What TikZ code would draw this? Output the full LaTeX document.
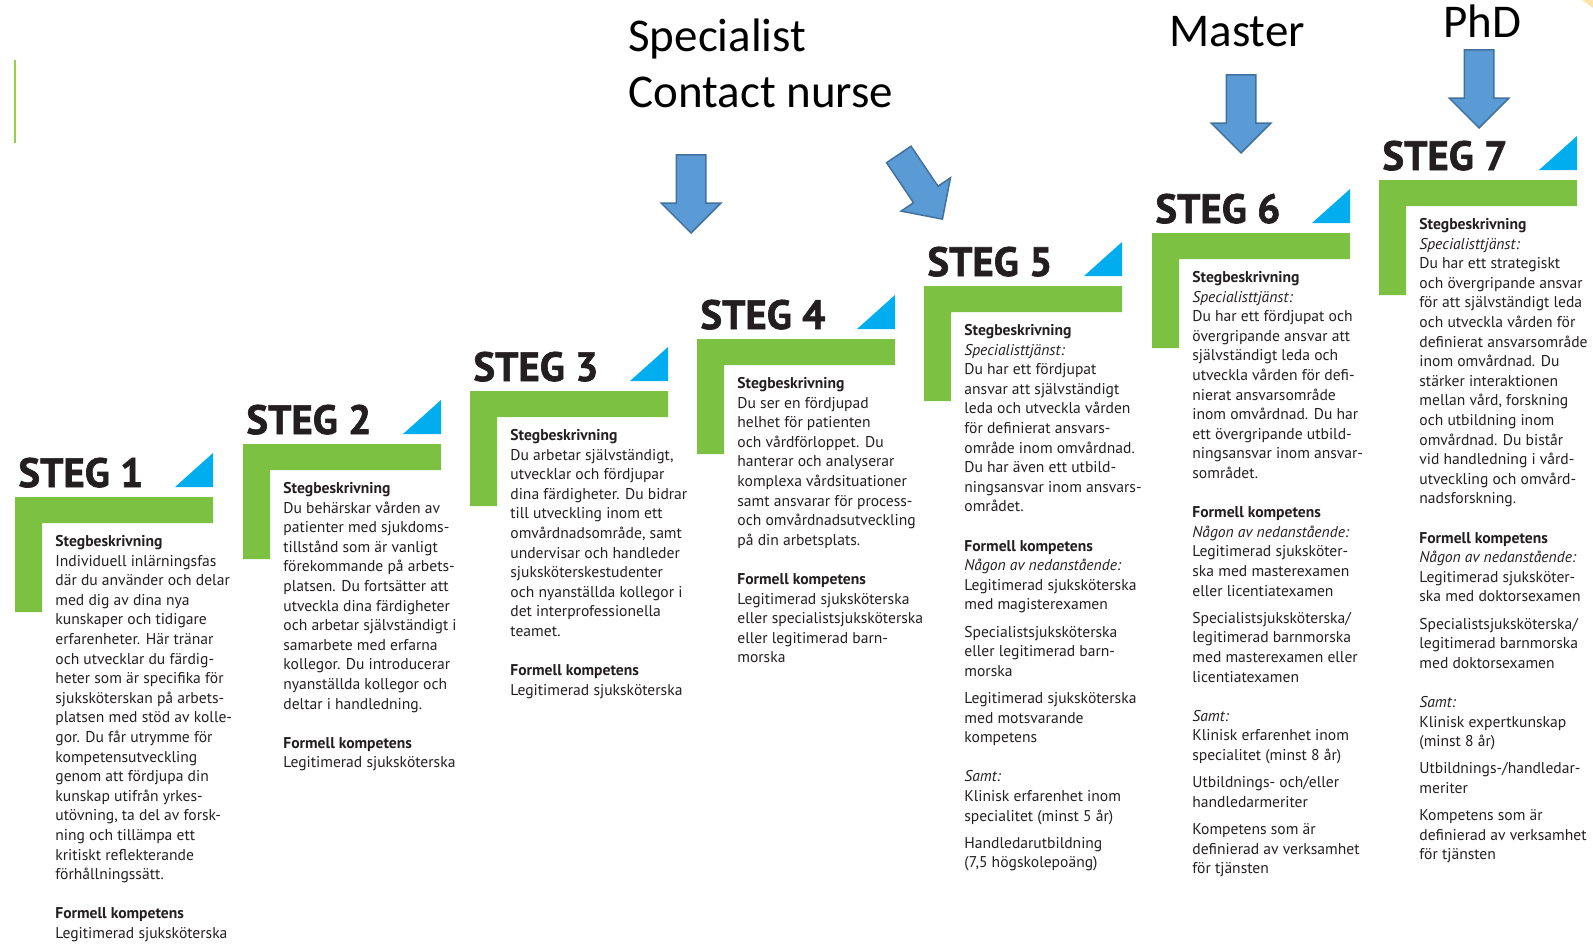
\documentclass[tikz,border=0pt]{standalone}
\usepackage{fontspec}
\setmainfont{PT Sans}
\newfontfamily\headfont{Carlito}
\newfontfamily\stegfont[BoldFeatures={FakeBold=1.5}]{PT Sans}
\usetikzlibrary{shapes.arrows}

\definecolor{steggreen}{RGB}{125,193,66}
\definecolor{stegblue}{RGB}{0,174,239}
\definecolor{stegink}{RGB}{35,31,32}
\definecolor{arrowfill}{RGB}{91,155,213}
\definecolor{arrowline}{RGB}{65,113,156}
\definecolor{thingreen}{RGB}{146,208,80}
\definecolor{cornerpale}{RGB}{252,228,170}

\tikzset{
	steglabel/.style={anchor=base west,inner sep=0pt,text=stegink,font=\stegfont\fontsize{20.5}{24}\selectfont\bfseries},
	stegtext/.style={anchor=north west,inner sep=0pt,text=stegink,align=left,font=\fontsize{7.8}{9.8}\selectfont},
	headline/.style={anchor=base west,inner sep=0pt,text=black,font=\headfont\fontsize{23.5}{28}\selectfont},
	blockarrow/.style={single arrow,anchor=tip,draw=arrowline,fill=arrowfill,line width=0.75pt,inner xsep=0pt,inner ysep=7pt,
		minimum height=39pt,single arrow head extend=7.5pt,single arrow head indent=0pt}
}

\begin{document}
\begin{tikzpicture}[x=0.5pt,y=-0.5pt]
	\useasboundingbox (0,0) rectangle (1593,944);
	\draw[thingreen,line width=1pt] (15,60) -- (15,143);
	\fill[cornerpale] (1582,0) -- (1593,0) -- (1593,8) -- cycle;

	\coordinate (s1) at (15,497);
	\coordinate (s2) at (243,444);
	\coordinate (s3) at (470,391);
	\coordinate (s4) at (697,339);
	\coordinate (s5) at (924,286);
	\coordinate (s6) at (1152,233);
	\coordinate (s7) at (1379,180);

	% steg 1
	\fill[steggreen] (s1) -- ++(198,0) -- ++(0,26) -- ++(-171,0) -- ++(0,89) -- ++(-27,0) -- cycle;
	\fill[stegblue] ([shift={(160,-10)}]s1) -- ++(38,0) -- ++(0,-34) -- cycle;
	\node[steglabel] (steg1) at ([shift={(3,-10)}]s1) {STEG 1};
	\node[stegtext] (txt1) at ([shift={(40,38)}]s1) {\textbf{Stegbeskrivning}\\
		Individuell inlärningsfas\\ där du använder och delar\\ med dig av dina nya\\
		kunskaper och tidigare\\ erfarenheter. Här tränar\\ och utvecklar du färdig-\\
		heter som är specifika för\\ sjuksköterskan på arbets-\\ platsen med stöd av kolle-\\
		gor. Du får utrymme för\\ kompetensutveckling\\ genom att fördjupa din\\
		kunskap utifrån yrkes-\\ utövning, ta del av forsk-\\ ning och tillämpa ett\\
		kritiskt reflekterande\\ förhållningssätt.\\[9.8pt]
		\textbf{Formell kompetens}\\ Legitimerad sjuksköterska};

	% steg 2
	\fill[steggreen] (s2) -- ++(198,0) -- ++(0,26) -- ++(-171,0) -- ++(0,89) -- ++(-27,0) -- cycle;
	\fill[stegblue] ([shift={(160,-10)}]s2) -- ++(38,0) -- ++(0,-34) -- cycle;
	\node[steglabel] (steg2) at ([shift={(3,-10)}]s2) {STEG 2};
	\node[stegtext] (txt2) at ([shift={(40,38)}]s2) {\textbf{Stegbeskrivning}\\
		Du behärskar vården av\\ patienter med sjukdoms-\\ tillstånd som är vanligt\\
		förekommande på arbets-\\ platsen. Du fortsätter att\\ utveckla dina färdigheter\\
		och arbetar självständigt i\\ samarbete med erfarna\\ kollegor. Du introducerar\\
		nyanställda kollegor och\\ deltar i handledning.\\[9.8pt]
		\textbf{Formell kompetens}\\ Legitimerad sjuksköterska};

	% steg 3
	\fill[steggreen] (s3) -- ++(198,0) -- ++(0,26) -- ++(-171,0) -- ++(0,89) -- ++(-27,0) -- cycle;
	\fill[stegblue] ([shift={(160,-10)}]s3) -- ++(38,0) -- ++(0,-34) -- cycle;
	\node[steglabel] (steg3) at ([shift={(3,-10)}]s3) {STEG 3};
	\node[stegtext] (txt3) at ([shift={(40,38)}]s3) {\textbf{Stegbeskrivning}\\
		Du arbetar självständigt,\\ utvecklar och fördjupar\\ dina färdigheter. Du bidrar\\
		till utveckling inom ett\\ omvårdnadsområde, samt\\ undervisar och handleder\\
		sjuksköterskestudenter\\ och nyanställda kollegor i\\ det interprofessionella\\
		teamet.\\[9.8pt]
		\textbf{Formell kompetens}\\ Legitimerad sjuksköterska};

	% steg 4
	\fill[steggreen] (s4) -- ++(198,0) -- ++(0,26) -- ++(-171,0) -- ++(0,89) -- ++(-27,0) -- cycle;
	\fill[stegblue] ([shift={(160,-10)}]s4) -- ++(38,0) -- ++(0,-34) -- cycle;
	\node[steglabel] (steg4) at ([shift={(3,-10)}]s4) {STEG 4};
	\node[stegtext] (txt4) at ([shift={(40,38)}]s4) {\textbf{Stegbeskrivning}\\
		Du ser en fördjupad\\ helhet för patienten\\ och vårdförloppet. Du\\
		hanterar och analyserar\\ komplexa vårdsituationer\\ samt ansvarar för process-\\
		och omvårdnadsutveckling\\ på din arbetsplats.\\[9.8pt]
		\textbf{Formell kompetens}\\ Legitimerad sjuksköterska\\ eller specialistsjuksköterska\\
		eller legitimerad barn-\\ morska};

	% steg 5
	\fill[steggreen] (s5) -- ++(198,0) -- ++(0,26) -- ++(-171,0) -- ++(0,89) -- ++(-27,0) -- cycle;
	\fill[stegblue] ([shift={(160,-10)}]s5) -- ++(38,0) -- ++(0,-34) -- cycle;
	\node[steglabel] (steg5) at ([shift={(3,-10)}]s5) {STEG 5};
	\node[stegtext] (txt5) at ([shift={(40,38)}]s5) {\textbf{Stegbeskrivning}\\
		\textit{Specialisttjänst:}\\ Du har ett fördjupat\\ ansvar att självständigt\\
		leda och utveckla vården\\ för definierat ansvars-\\ område inom omvårdnad.\\
		Du har även ett utbild-\\ ningsansvar inom ansvars-\\ området.\\[9.8pt]
		\textbf{Formell kompetens}\\ \textit{Någon av nedanstående:}\\
		Legitimerad sjuksköterska\\ med magisterexamen\\[3.8pt]
		Specialistsjuksköterska\\ eller legitimerad barn-\\ morska\\[3.8pt]
		Legitimerad sjuksköterska\\ med motsvarande\\ kompetens\\[9.8pt]
		\textit{Samt:}\\ Klinisk erfarenhet inom\\ specialitet (minst 5 år)\\[3.8pt]
		Handledarutbildning\\ (7,5 högskolepoäng)};

	% steg 6
	\fill[steggreen] (s6) -- ++(198,0) -- ++(0,26) -- ++(-171,0) -- ++(0,89) -- ++(-27,0) -- cycle;
	\fill[stegblue] ([shift={(160,-10)}]s6) -- ++(38,0) -- ++(0,-34) -- cycle;
	\node[steglabel] (steg6) at ([shift={(3,-10)}]s6) {STEG 6};
	\node[stegtext] (txt6) at ([shift={(40,38)}]s6) {\textbf{Stegbeskrivning}\\
		\textit{Specialisttjänst:}\\ Du har ett fördjupat och\\ övergripande ansvar att\\
		självständigt leda och\\ utveckla vården för defi-\\ nierat ansvarsområde\\
		inom omvårdnad. Du har\\ ett övergripande utbild-\\ ningsansvar inom ansvar-\\
		sområdet.\\[9.8pt]
		\textbf{Formell kompetens}\\ \textit{Någon av nedanstående:}\\
		Legitimerad sjuksköter-\\ ska med masterexamen\\ eller licentiatexamen\\[3.8pt]
		Specialistsjuksköterska/\\ legitimerad barnmorska\\ med masterexamen eller\\
		licentiatexamen\\[9.8pt]
		\textit{Samt:}\\ Klinisk erfarenhet inom\\ specialitet (minst 8 år)\\[3.8pt]
		Utbildnings- och/eller\\ handledarmeriter\\[3.8pt]
		Kompetens som är\\ definierad av verksamhet\\ för tjänsten};

	% steg 7
	\fill[steggreen] (s7) -- ++(198,0) -- ++(0,26) -- ++(-171,0) -- ++(0,89) -- ++(-27,0) -- cycle;
	\fill[stegblue] ([shift={(160,-10)}]s7) -- ++(38,0) -- ++(0,-34) -- cycle;
	\node[steglabel] (steg7) at ([shift={(3,-10)}]s7) {STEG 7};
	\node[stegtext] (txt7) at ([shift={(40,38)}]s7) {\textbf{Stegbeskrivning}\\
		\textit{Specialisttjänst:}\\ Du har ett strategiskt\\ och övergripande ansvar\\
		för att självständigt leda\\ och utveckla vården för\\ definierat ansvarsområde\\
		inom omvårdnad. Du\\ stärker interaktionen\\ mellan vård, forskning\\
		och utbildning inom\\ omvårdnad. Du bistår\\ vid handledning i vård-\\
		utveckling och omvård-\\ nadsforskning.\\[9.8pt]
		\textbf{Formell kompetens}\\ \textit{Någon av nedanstående:}\\
		Legitimerad sjuksköter-\\ ska med doktorsexamen\\[3.8pt]
		Specialistsjuksköterska/\\ legitimerad barnmorska\\ med doktorsexamen\\[9.8pt]
		\textit{Samt:}\\ Klinisk expertkunskap\\ (minst 8 år)\\[3.8pt]
		Utbildnings-/handledar-\\ meriter\\[3.8pt]
		Kompetens som är\\ definierad av verksamhet\\ för tjänsten};

	% titles and arrows
	\node[headline] (specialist) at (628,51) {Specialist};
	\node[headline] (contact) at (628,107) {Contact nurse};
	\node[headline] (master) at (1169,46) {Master};
	\node[headline] (phd) at (1443,37) {PhD};
	\node[blockarrow,rotate=-90] (arrspec) at (691,234) {};
	\node[blockarrow,rotate=-56] (arrcontact) at (943,220) {};
	\node[blockarrow,rotate=-90] (arrmaster) at (1241,154) {};
	\node[blockarrow,rotate=-90] (arrphd) at (1479,129) {};
\end{tikzpicture}
\end{document}
